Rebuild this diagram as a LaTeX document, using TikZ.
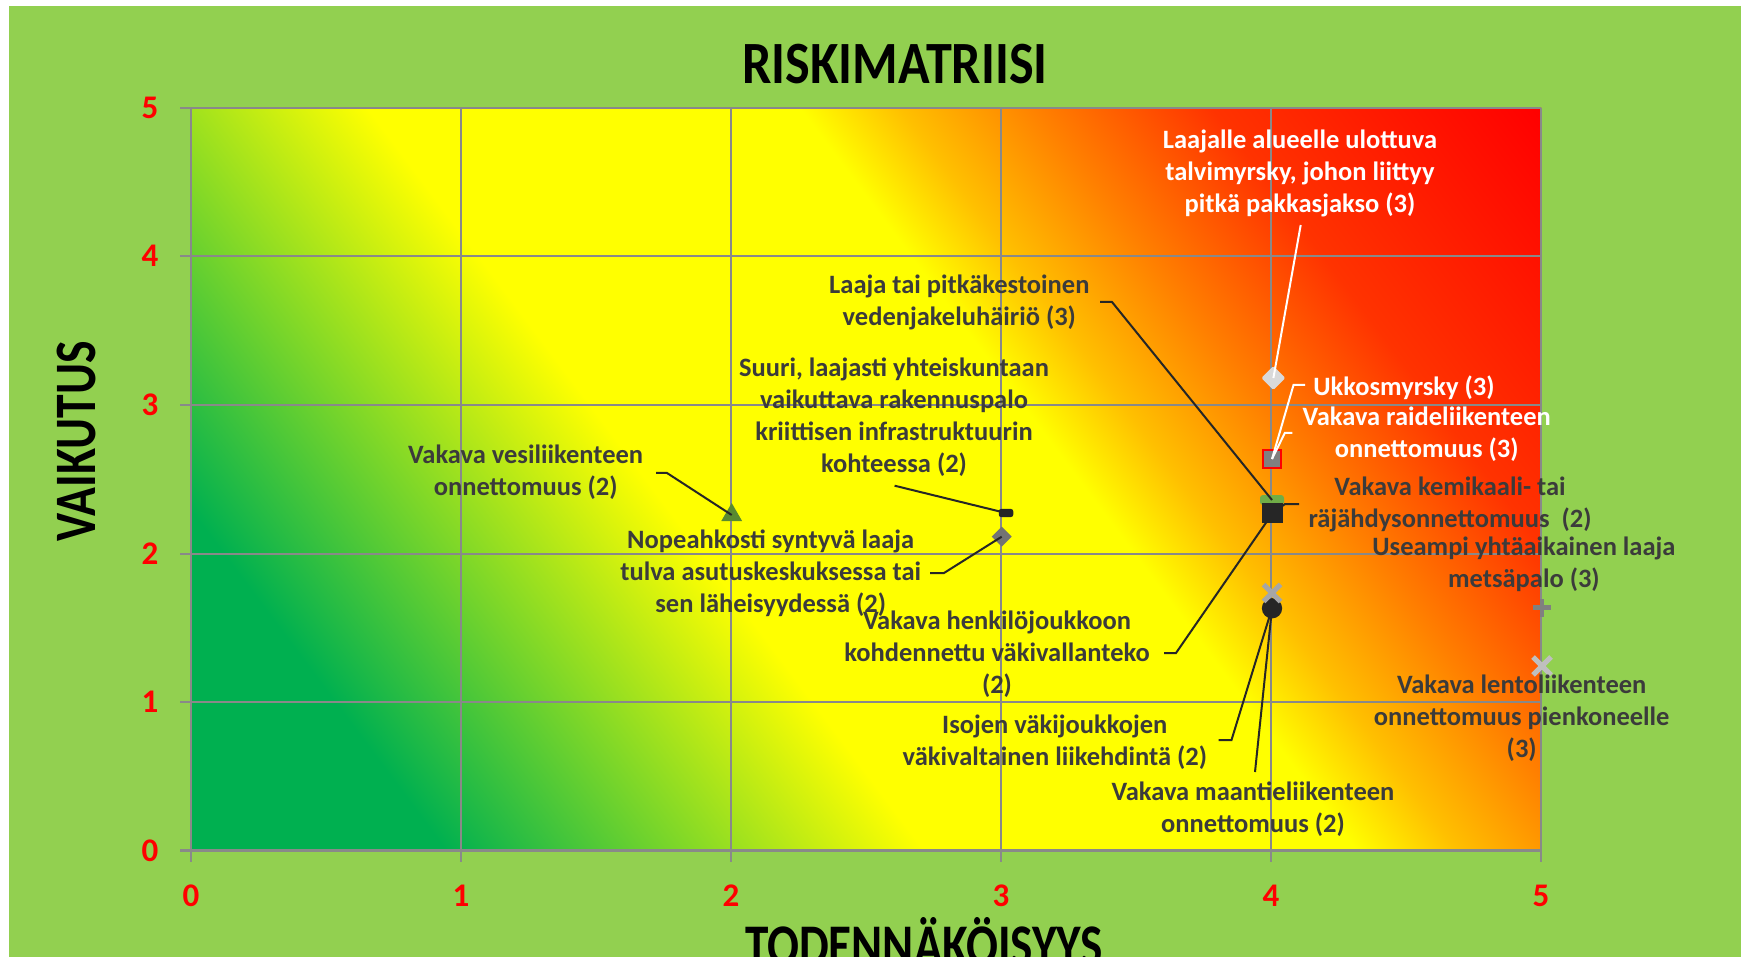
\documentclass[tikz,border=0pt]{standalone}
\usepackage{graphicx}
\usepackage{fontspec}
\setmainfont{Carlito}
\usetikzlibrary{shapes.geometric,shapes.misc}
\definecolor{bggreen}{HTML}{92D050}
\definecolor{gA}{HTML}{00B050}
\definecolor{gY}{HTML}{FFFF00}
\definecolor{gO}{HTML}{FFC000}
\definecolor{gOtwo}{HTML}{FF8000}
\definecolor{gRtwo}{HTML}{FF3300}
\definecolor{gR}{HTML}{FF0000}
\definecolor{gridgray}{HTML}{898989}
\definecolor{txtdark}{HTML}{3B3B3B}
\definecolor{mkdark}{HTML}{262626}
\definecolor{mkolive}{HTML}{5A8A30}
\definecolor{mkgreen}{HTML}{70AD47}
\definecolor{mkgray}{HTML}{737373}
\definecolor{mklight}{HTML}{D9D9D9}
\definecolor{mksq}{HTML}{808080}
\definecolor{mkx}{HTML}{A6A6A6}
\definecolor{mkxl}{HTML}{BFBFBF}
\pgfdeclarehorizontalshading{riskshade}{100bp}{%
 color(0bp)=(gA); color(31.65bp)=(gA); color(44.23bp)=(gY); color(55.57bp)=(gY);
 color(58.2bp)=(gO); color(61.8bp)=(gOtwo); color(66.4bp)=(gRtwo); color(75bp)=(gR); color(100bp)=(gR)}
\tikzset{
  lbl/.style={font=\fontsize{26.5}{32}\selectfont\bfseries, text=txtdark, align=center, inner sep=0pt,
    execute at begin node=\strut, execute at end node=\strut},
  lblw/.style={lbl, text=white},
  lead/.style={draw=mkdark, line width=2pt},
  leadw/.style={draw=white, line width=2pt},
  gridline/.style={draw=gridgray, line width=2pt},
  ticklbl/.style={font=\fontsize{33}{33}\selectfont\bfseries, text=gR, inner sep=0pt},
  bigtitle/.style={font=\fontsize{60}{60}\selectfont\bfseries, text=black, inner sep=0pt},
  mk/.style={inner sep=0pt, outer sep=0pt},
  xmark/.style={mk, cross out, line width=5pt, minimum size=17pt},
}
\begin{document}
\begin{tikzpicture}[x=1pt,y=-1pt]
\useasboundingbox (0,0) rectangle (1741,957);
\fill[white] (0,0) rectangle (1741,957);
\fill[bggreen] (9,6) rectangle (1741,957);
% plot area gradient
\begin{scope}
\clip (191,108) rectangle (1541,850.5);
\shade[shading=riskshade, shading angle=36.87] (103,-283.75) rectangle (1629,1242.25);
\end{scope}
% grid
\foreach \i in {0,...,5} {
  \draw[gridline] ({191+270*\i},108) -- ({191+270*\i},862);
  \draw[gridline] (180,{850.5-148.5*\i}) -- (1541,{850.5-148.5*\i});
}
\draw[gridline, line width=3pt] (180,850.5) -- (1541,850.5);
% tick labels
\foreach \i in {0,...,5} {
  \node[ticklbl, anchor=base] (xt\i) at ({191+270*\i},906) {\i};
  \node[ticklbl, anchor=base] (yt\i) at (150,{850.5-148.5*\i+10.5}) {\i};
}
% titles
\node[bigtitle, anchor=base] (title) at (895,83.3) {\scalebox{0.87}[1]{RISKIMATRIISI}};
\node[bigtitle, anchor=base, rotate=90, font=\fontsize{58.7}{60}\selectfont\bfseries] (ylab) at (95.5,441.3) {\scalebox{0.81}[1]{VAIKUTUS}};
\node[bigtitle, anchor=base, font=\fontsize{59}{60}\selectfont\bfseries] (xlab) at (924,965) {\scalebox{0.8}[1]{TODENNÄKÖISYYS}};
% markers
\node[mk, regular polygon, regular polygon sides=3, minimum size=24pt, fill=mkolive] (m1) at (731.7,515) {};
\node[mk, rectangle, rounded corners=2.5pt, minimum width=14.5pt, minimum height=8.3pt, fill=mkdark] (m2) at (1006,513) {};
\node[mk, diamond, minimum size=20pt, fill=mkgray] (m3) at (1001.7,536.7) {};
\node[mk, diamond, minimum size=24pt, fill=mklight, rounded corners=1.5pt] (m4) at (1273.4,378) {};
\node[mk, rectangle, minimum size=18pt, fill=mksq, draw=gR, line width=2pt] (m5) at (1272,459) {};
\node[mk, rectangle, rounded corners=3pt, minimum width=24pt, minimum height=10pt, fill=mkgreen] (m6) at (1272,500) {};
\node[mk, rectangle, minimum size=20.3pt, fill=mkdark] (m7) at (1272.5,513.3) {};
\node[mk, circle, minimum size=20.3pt, fill=mkdark] (m8) at (1272,608.3) {};
\node[xmark, draw=mkx] (m9) at (1272,593) {};
\coordinate (m10) at (1542,607.7);
\draw[draw=mksq, line width=4.5pt] ([yshift=-9pt]m10) -- ([yshift=9pt]m10) ([xshift=-9pt]m10) -- ([xshift=9pt]m10);
\node[xmark, draw=mkxl, minimum size=18pt] (m11) at (1542,666) {};
% labels
\node[lblw] (lA) at (1300,176) {Laajalle alueelle ulottuva\\talvimyrsky, johon liittyy\\pitkä pakkasjakso (3)};
\node[lblw] (lB) at (1404,389.5) {Ukkosmyrsky (3)};
\node[lblw] (lR) at (1426.7,437) {Vakava raideliikenteen\\onnettomuus (3)};
\node[lbl] (lC) at (959.3,305) {Laaja tai pitkäkestoinen\\vedenjakeluhäiriö (3)};
\node[lbl] (lD) at (894,419.7) {Suuri, laajasti yhteiskuntaan\\vaikuttava rakennuspalo\\kriittisen infrastruktuurin\\kohteessa (2)};
\node[lbl] (lE) at (525.7,475.5) {Vakava vesiliikenteen\\onnettomuus (2)};
\node[lbl] (lF) at (770.7,575.6) {Nopeahkosti syntyvä laaja\\tulva asutuskeskuksessa tai\\sen läheisyydessä (2)};
\node[lbl] (lG) at (1450,506.6) {Vakava kemikaali- tai\\räjähdysonnettomuus~~(2)};
\node[lbl] (lH) at (1523.9,566.6) {Useampi yhtäaikainen laaja\\metsäpalo (3)};
\node[lbl] (lI) at (997,657) {Vakava henkilöjoukkoon\\kohdennettu väkivallanteko\\(2)};
\node[lbl] (lJ) at (1054.8,744.8) {Isojen väkijoukkojen\\väkivaltainen liikehdintä (2)};
\node[lbl] (lK) at (1253,812) {Vakava maantieliikenteen\\onnettomuus (2)};
\node[lbl] (lL) at (1521.7,721) {Vakava lentoliikenteen\\onnettomuus pienkoneelle\\(3)};
% leader start points
\coordinate (sA) at (1300.7,225);
\coordinate (sB) at (1305,385);
\coordinate (sR) at (1292.4,433);
\coordinate (sC) at (1100,302);
\coordinate (sD) at (894.6,485.7);
\coordinate (sE) at (656,473);
\coordinate (sF) at (930,573);
\coordinate (sG) at (1299,504);
\coordinate (sI) at (1164,653);
\coordinate (sJ) at (1218.5,740);
\coordinate (sK) at (1255,772);
% leaders
\draw[leadw] (sA) -- (m4.center);
\draw[leadw] (sB) -- ++(-11.5,0) -- (m5.center);
\draw[leadw] (sR) -- ++(-7.6,0) -- (m5.center);
\draw[lead] (sC) -- ++(12,0) -- (m6.center);
\draw[lead] (sD) -- (m2.center);
\draw[lead] (sE) -- ++(11,0) -- (m1.center);
\draw[lead] (sF) -- ++(14,0) -- (m3.center);
\draw[lead] (sG) -- ++(-14,0) -- (m7.center);
\draw[lead] (sI) -- ++(12,0) -- (m7.center);
\draw[lead] (sJ) -- ++(13,0) -- (m8.center);
\draw[lead] (sK) -- (m8.center);
\end{tikzpicture}
\end{document}
